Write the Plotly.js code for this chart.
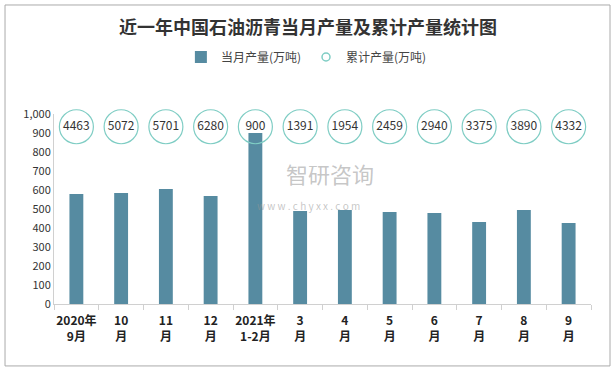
<!DOCTYPE html>
<html><head><meta charset="utf-8">
<script src="https://cdn.plot.ly/plotly-3.0.1.min.js"></script>
<style>html,body{margin:0;padding:0;background:#fff}#chart{width:616px;height:371px}</style>
</head><body><div id="chart"></div>
<script>
const categories = ["2020年<br>9月","10<br>月","11<br>月","12<br>月","2021年<br>1-2月","3<br>月","4<br>月","5<br>月","6<br>月","7<br>月","8<br>月","9<br>月"];
const monthly = [579, 584, 605, 568, 900, 489, 495, 484, 479, 432, 495, 426];
const cumulative = [4463, 5072, 5701, 6280, 900, 1391, 1954, 2459, 2940, 3375, 3890, 4332];
const circleLevel = 933;

const font = "'Noto Sans CJK SC', 'Noto Sans', sans-serif";
const traces = [
  {type:'bar', x:categories, y:monthly, name:'当月产量(万吨)',
   marker:{color:'#568ba1'}, hoverinfo:'skip'},
  {type:'scatter', mode:'markers+text', x:categories, y:categories.map(()=>circleLevel),
   text:cumulative.map(String), textposition:'middle center',
   textfont:{size:12, color:'#333', family:font},
   marker:{size:34, color:'rgba(255,255,255,0)', line:{color:'#7fcdc4', width:1.2}},
   showlegend:false, cliponaxis:false},
  {type:'scatter', mode:'markers', x:[categories[0]], y:[null], name:'累计产量(万吨)',
   marker:{size:8, color:'#fff', line:{color:'#7fcdc4', width:1.5}}}
];
const layout = {
  width:616, height:371,
  margin:{l:54, r:25, t:114, b:67},
  paper_bgcolor:'#fff', plot_bgcolor:'#fff',
  font:{family:font, color:'#333'},
  title:{text:'<b>近一年中国石油沥青当月产量及累计产量统计图</b>', x:0.5, xanchor:'center', y:0.925, yanchor:'middle',
         font:{size:18, color:'#333', family:font}},
  showlegend:true,
  legend:{orientation:'h', x:0.47, xanchor:'center', y:1.3, yanchor:'middle',
          font:{size:12, color:'#444', family:font}, itemwidth:20, tracegroupgap:0},
  bargap:0.69,
  xaxis:{type:'category', range:[-0.5, 11.5], autorange:false, showline:true, linecolor:'#d0d0d0', linewidth:1, tickangle:0,
         ticks:'outside', tickson:'boundaries', ticklen:5, tickcolor:'#d0d0d0', ticklabelstandoff:6,
         tickfont:{size:12, color:'#222', family:font, weight:'bold'}, showgrid:false, fixedrange:true},
  yaxis:{range:[0,1000], dtick:100, tickformat:',d', showline:true, linecolor:'#d0d0d0',
         showgrid:false, zeroline:false, tickfont:{size:11, color:'#333', family:font}, ticks:'', fixedrange:true},
  shapes:[{type:'rect', xref:'paper', yref:'paper', x0:-0.0912, x1:1.0354, y0:-0.326, y1:1.5737,
           line:{color:'#aaa', width:1}, fillcolor:'rgba(0,0,0,0)', layer:'below'}],
  annotations:[
    {text:'智研咨询', xref:'paper', yref:'paper', x:0.514, y:0.69, yanchor:'middle', showarrow:false,
     font:{size:22, color:'rgba(150,150,150,0.55)', family:font}},
    {text:'w w w . c h y x x . c o m', xref:'paper', yref:'paper', x:0.473, y:0.52, yanchor:'middle', showarrow:false,
     font:{size:10, color:'rgba(150,150,150,0.55)', family:font}}
  ]
};
Plotly.newPlot('chart', traces, layout, {displayModeBar:false, staticPlot:true});
</script></body></html>
